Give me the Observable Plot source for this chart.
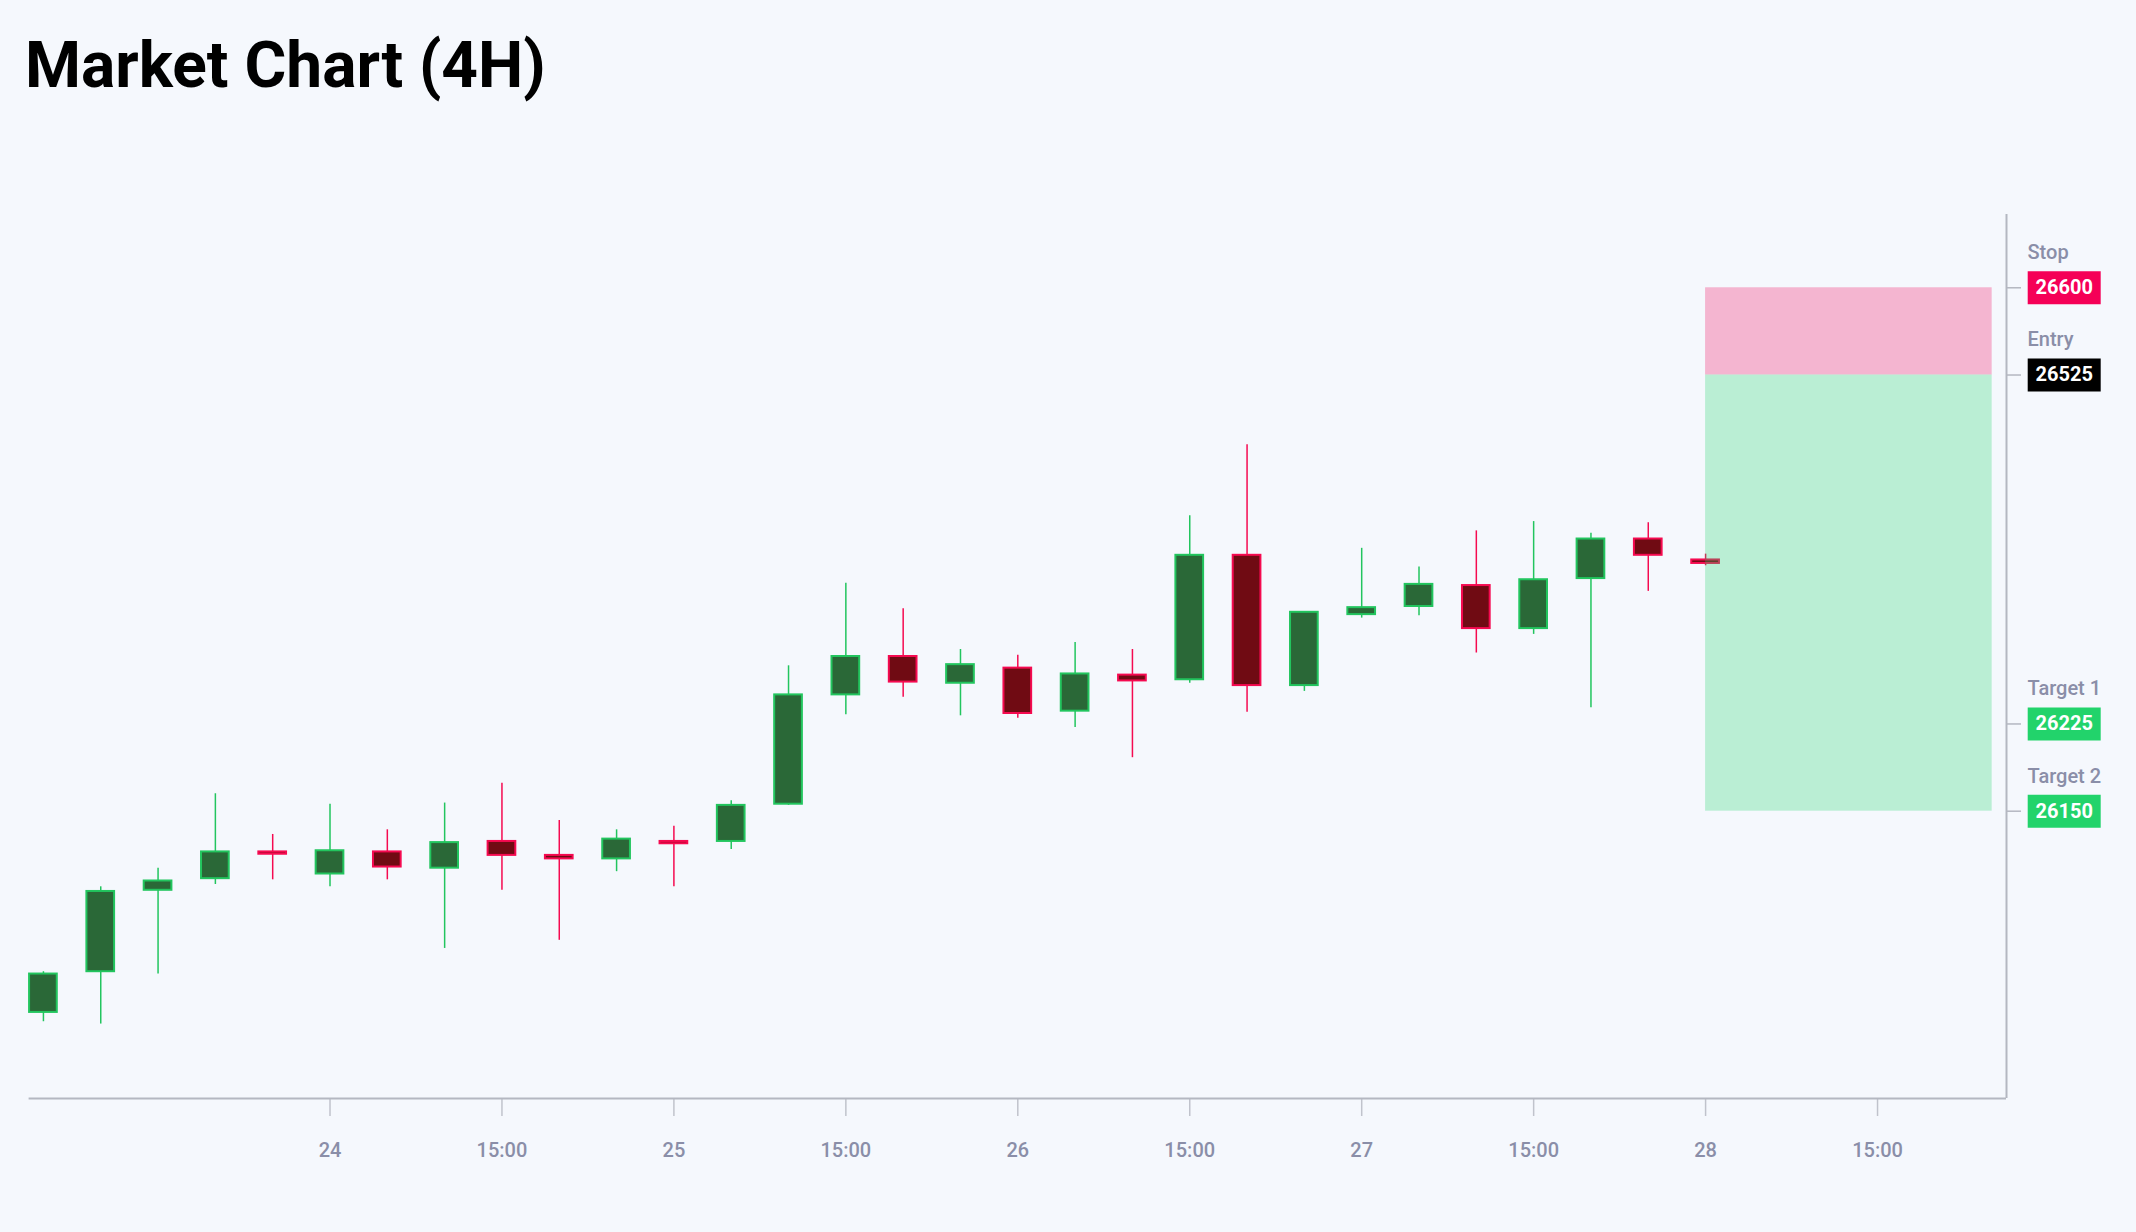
<!DOCTYPE html>
<html><head><meta charset="utf-8">
<script src="https://cdn.jsdelivr.net/npm/d3@7"></script>
<script src="https://cdn.jsdelivr.net/npm/@observablehq/plot@0.6"></script>
<style>
html,body{margin:0;padding:0;background:#f5f8fd;width:2136px;height:1232px;overflow:hidden;}
#title{position:absolute;left:25px;top:34px;font:700 64px/64px Roboto,sans-serif;color:#000;margin:0;white-space:nowrap;}
#chart{position:absolute;left:0;top:130px;}
</style></head><body>
<div id="title">Market Chart (4H)</div>
<div id="chart"></div>
<script>
// ---- data ----
const times = [
  "2023-09-23T04:00Z","2023-09-23T08:00Z","2023-09-23T12:00Z","2023-09-23T16:00Z","2023-09-23T20:00Z",
  "2023-09-24T00:00Z","2023-09-24T04:00Z","2023-09-24T08:00Z","2023-09-24T12:00Z","2023-09-24T16:00Z","2023-09-24T20:00Z",
  "2023-09-25T00:00Z","2023-09-25T04:00Z","2023-09-25T08:00Z","2023-09-25T12:00Z","2023-09-25T16:00Z","2023-09-25T20:00Z",
  "2023-09-26T00:00Z","2023-09-26T04:00Z","2023-09-26T08:00Z","2023-09-26T12:00Z","2023-09-26T16:00Z","2023-09-26T20:00Z",
  "2023-09-27T00:00Z","2023-09-27T04:00Z","2023-09-27T08:00Z","2023-09-27T12:00Z","2023-09-27T16:00Z","2023-09-27T20:00Z",
  "2023-09-28T00:00Z"
];
const opens  = [25977,26012,26082,26092,26115,26096,26115,26101,26124,26112,26109,26124,26124,26156,26250,26283,26260,26273,26236,26267,26263,26370,26258,26319,26326,26344,26307,26350,26384,26366];
const highs  = [26012,26085,26101,26165,26130,26156,26134,26157,26174,26142,26134,26137,26159,26275,26346,26324,26289,26284,26295,26289,26404,26465,26321,26376,26360,26391,26399,26389,26398,26371];
const lows   = [25969,25967,26010,26087,26091,26085,26091,26032,26082,26039,26098,26085,26117,26155,26233,26248,26232,26230,26222,26196,26260,26235,26253,26316,26318,26286,26302,26239,26339,26361];
const closes = [26010,26081,26090,26115,26113,26116,26102,26123,26112,26109,26126,26122,26155,26250,26283,26261,26276,26234,26268,26262,26370,26258,26321,26325,26345,26307,26349,26384,26370,26363];

const tickTimes  = ["2023-09-24T00:00Z","2023-09-24T12:00Z","2023-09-25T00:00Z","2023-09-25T12:00Z","2023-09-26T00:00Z","2023-09-26T12:00Z","2023-09-27T00:00Z","2023-09-27T12:00Z","2023-09-28T00:00Z","2023-09-28T12:00Z"];
const tickLabels = ["24","15:00","25","15:00","26","15:00","27","15:00","28","15:00"];

const levelNames  = ["Stop","Entry","Target 1","Target 2"];
const levelValues = [26600, 26525, 26225, 26150];
const levelColors = ["#f50057","#000000","#22d36b","#22d36b"];

const zoneStart = "2023-09-28T00:00Z";
const zoneEnd   = "2023-09-28T20:00Z";
const entry = 26525, stop = 26600, target2 = 26150;

// ---- build ----
const candles = times.map((t, i) => ({t: new Date(t), o: opens[i], h: highs[i], l: lows[i], c: closes[i]}));
const ups = candles.filter(d => d.c >= d.o);
const downs = candles.filter(d => d.c < d.o);
const levels = levelNames.map((n, i) => ({name: n, value: levelValues[i], color: levelColors[i]}));
const tickDates = tickTimes.map(t => new Date(t));
const labelOf = new Map(tickDates.map((d, i) => [+d, tickLabels[i]]));

const xDomain = [new Date("2023-09-23T03:00Z"), new Date("2023-09-28T21:00Z")];
const yDomain = [25903, 26663];
const halfW = 58 * 60 * 1000;

const upFill = "#2a6837", upStroke = "#22c55e";
const downFill = "#700b13", downStroke = "#f50a50";
const axisGray = "#b4b7c1";

const boxSymbol = {draw(ctx) { ctx.rect(-36.5, -16.5, 73, 33); }};

const bodyMark = (data, fill, stroke) => Plot.rect(data, {
  x1: d => new Date(+d.t - halfW), x2: d => new Date(+d.t + halfW),
  y1: "o", y2: "c", fill, stroke, strokeWidth: 2
});

const chart = Plot.plot({
  width: 2136, height: 1100,
  marginLeft: 28.6, marginRight: 130, marginTop: 84, marginBottom: 132,
  style: {background: "transparent", fontFamily: "Roboto, sans-serif"},
  x: {type: "utc", domain: xDomain},
  y: {domain: yDomain},
  color: {type: "identity"},
  marks: [
    Plot.axisX({ticks: tickDates, tickFormat: d => labelOf.get(+d), tickSize: 18, tickPadding: 26,
      stroke: "#c0c3cc", strokeWidth: 1.5, fill: "#8a8ea8", fontSize: 20, fontWeight: 500, label: null}),
    Plot.axisY({anchor: "right", ticks: levelValues, tickSize: 14, tickFormat: () => "",
      stroke: axisGray, strokeWidth: 1.5, label: null}),
    Plot.ruleY([yDomain[0]], {stroke: axisGray, strokeWidth: 2}),
    Plot.ruleX([xDomain[1]], {stroke: axisGray, strokeWidth: 2}),
    Plot.ruleX(ups, {x: "t", y1: "l", y2: "h", stroke: upStroke, strokeWidth: 1.5}),
    Plot.ruleX(downs, {x: "t", y1: "l", y2: "h", stroke: downStroke, strokeWidth: 1.5}),
    bodyMark(ups, upFill, upStroke),
    bodyMark(downs, downFill, downStroke),
    Plot.rect([0], {x1: () => new Date(zoneStart), x2: () => new Date(zoneEnd), y1: () => entry, y2: () => stop,
      fill: "#f50057", fillOpacity: 0.27}),
    Plot.rect([0], {x1: () => new Date(zoneStart), x2: () => new Date(zoneEnd), y1: () => target2, y2: () => entry,
      fill: "#22d36b", fillOpacity: 0.28}),
    Plot.text(levels, {y: "value", text: "name", frameAnchor: "right", dx: 21, dy: -35, textAnchor: "start",
      fill: "#8a8ea8", fontSize: 20, fontWeight: 500}),
    Plot.dot(levels, {y: "value", frameAnchor: "right", dx: 57.7, fill: "color", stroke: null, symbol: boxSymbol, r: 10}),
    Plot.text(levels, {y: "value", text: d => String(d.value), frameAnchor: "right", dx: 57.7, textAnchor: "middle",
      fill: "white", fontSize: 20, fontWeight: 700})
  ]
});
document.getElementById("chart").appendChild(chart);
</script></body></html>
